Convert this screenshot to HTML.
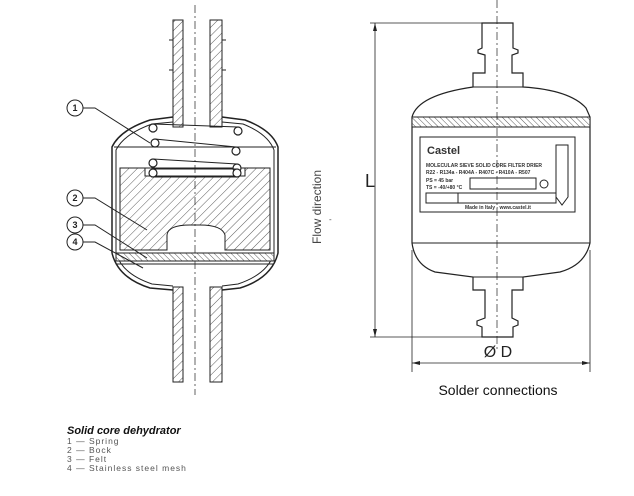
<!DOCTYPE html>
<html><head><meta charset="utf-8"><style>
body{margin:0;background:#fff}
svg{display:block}
text{font-family:"Liberation Sans",sans-serif}
</style></head><body>
<svg width="634" height="496" viewBox="0 0 634 496" xmlns="http://www.w3.org/2000/svg">
<defs>
<pattern id="h" width="6" height="6" patternUnits="userSpaceOnUse" patternTransform="rotate(45)">
<rect width="6" height="6" fill="#fff"/><line x1="0" y1="0" x2="0" y2="6" stroke="#333" stroke-width="0.8"/></pattern>
<pattern id="h2" width="4" height="4" patternUnits="userSpaceOnUse" patternTransform="rotate(-45)">
<rect width="4" height="4" fill="#fff"/><line x1="0" y1="0" x2="0" y2="4" stroke="#333" stroke-width="0.8"/></pattern>
</defs>
<g stroke="#222" stroke-width="1" fill="none">
<rect x="173" y="20" width="10" height="107" fill="url(#h)"/>
<rect x="210" y="20" width="12" height="107" fill="url(#h)"/>
<rect x="173" y="287" width="10" height="95" fill="url(#h)"/>
<rect x="210" y="287" width="12" height="95" fill="url(#h)"/>
<path d="M169 40 L173 40 M169 70 L173 70 M222 40 L226 40 M222 70 L226 70"/>
<path d="M112 253 L112 147 Q120 130 150 120 L173 117 M222 117 L245 120 Q272 130 278 147 L278 253 Q272 278 240 288 L222 290 M173 290 L150 288 Q118 278 112 253" stroke-width="1.5"/>
<path d="M116 253 L116 150 Q124 134 152 124 L173 122 M222 122 L243 124 Q268 134 274 150 L274 253 Q268 274 238 284 L222 286 M173 286 L152 284 Q122 274 116 253"/>
<line x1="114" y1="147" x2="276" y2="147"/>
<path d="M120 168 L270 168 L270 250 L225 250 L225 235 Q222 225 200 225 L190 225 Q168 225 167 235 L167 250 L120 250 Z" fill="url(#h)"/>
<rect x="145" y="168" width="100" height="8" fill="#fff"/>
<rect x="116" y="253" width="158" height="8" fill="url(#h2)"/>
<line x1="116" y1="264" x2="274" y2="264"/>
<g fill="#fff" stroke-width="1.2">
<circle cx="153" cy="128" r="4"/><circle cx="238" cy="131" r="4"/>
<circle cx="155" cy="143" r="4"/><circle cx="236" cy="151" r="4"/>
<circle cx="153" cy="163" r="4"/><circle cx="237" cy="168" r="4"/>
<circle cx="153" cy="173" r="4"/><circle cx="237" cy="173" r="4"/>
</g>
<path d="M153 124 L238 127 M155 139 L236 147 M153 159 L237 164 M153 169 L237 169 M153 177 L237 177"/>
<line x1="195" y1="5" x2="195" y2="395" stroke-dasharray="8 3 2 3" stroke-width="0.7"/>
<g fill="#fff"><circle cx="75" cy="108" r="8"/><circle cx="75" cy="198" r="8"/><circle cx="75" cy="225" r="8"/><circle cx="75" cy="242" r="8"/></g>
<path d="M83 108 L95 108 L150 143 M83 198 L95 198 L147 230 M83 225 L95 225 L147 258 M83 242 L95 242 L143 268"/>
<path d="M482 23 L513 23 L513 48 L518 50 L518 53 L512 55 L512 73 L523 73 L523 87 Q570 90 586 108 L590 117 L590 243 Q585 265 560 272 L523 277 L523 290 L512 290 L512 318 L518 321 L518 325 L513 327 L513 337 L482 337 L482 327 L477 325 L477 321 L485 318 L485 290 L473 290 L473 277 L435 272 Q415 265 412 243 L412 117 Q418 95 473 87 L473 73 L485 73 L485 55 L478 53 L478 50 L482 48 Z" stroke-width="1.2" fill="#fff"/>
<rect x="412" y="117" width="178" height="10" fill="url(#h2)"/>
<line x1="473" y1="87" x2="523" y2="87"/>
<line x1="473" y1="277" x2="523" y2="277"/>
<line x1="412" y1="243" x2="590" y2="243"/>
<rect x="420" y="137" width="155" height="75"/>
<path d="M556 145 L568 145 L568 197 L562 205 L556 197 Z"/>
<rect x="470" y="178" width="66" height="11"/>
<rect x="426" y="193" width="130" height="10"/>
<line x1="458" y1="193" x2="458" y2="203"/>
<circle cx="544" cy="184" r="4"/>
<line x1="497" y1="0" x2="497" y2="350" stroke-dasharray="8 3 2 3" stroke-width="0.7"/>
<path d="M370 23 L482 23 M370 337 L482 337 M375 23 L375 337 M412 250 L412 372 M590 250 L590 372 M412 363 L590 363" stroke-width="0.8"/>
</g>
<g fill="#222">
<path d="M375 23 l-2 8 l4 0 Z M375 337 l-2 -8 l4 0 Z M412 363 l8 -2 l0 4 Z M590 363 l-8 -2 l0 4 Z"/>
</g>
<g font-size="9" font-weight="bold" text-anchor="middle" fill="#222">
<text x="75" y="111">1</text><text x="75" y="201">2</text><text x="75" y="228">3</text><text x="75" y="245">4</text>
</g>
<text x="321" y="207" font-size="12" fill="#444" transform="rotate(-90 321 207)" text-anchor="middle">Flow direction</text>
<text x="329" y="222" font-size="8" fill="#444">-</text>
<g font-size="5" font-weight="bold" fill="#333">
<text x="427" y="154" font-size="11">Castel</text>
<text x="426" y="167">MOLECULAR SIEVE SOLID CORE FILTER DRIER</text>
<text x="426" y="174">R22 - R134a -    R404A - R407C - R410A - R507</text>
<text x="426" y="182">PS = 45 bar</text>
<text x="426" y="189">TS = -40/+80 °C</text>
<text x="465" y="209">Made in Italy - www.castel.it</text>
</g>
<text x="365" y="187" font-size="18" fill="#222">L</text>
<text x="498" y="357" font-size="16" fill="#222" text-anchor="middle">Ø D</text>
<text x="498" y="395" font-size="14" fill="#111" text-anchor="middle">Solder connections</text>
<text x="67" y="434" font-size="11" font-weight="bold" font-style="italic" fill="#111">Solid core dehydrator</text>
<g font-size="8.5" fill="#555" letter-spacing="1">
<text x="67" y="444">1 — Spring</text>
<text x="67" y="453">2 — Bock</text>
<text x="67" y="462">3 — Felt</text>
<text x="67" y="471">4 — Stainless steel mesh</text>
</g>
</svg>
</body></html>
